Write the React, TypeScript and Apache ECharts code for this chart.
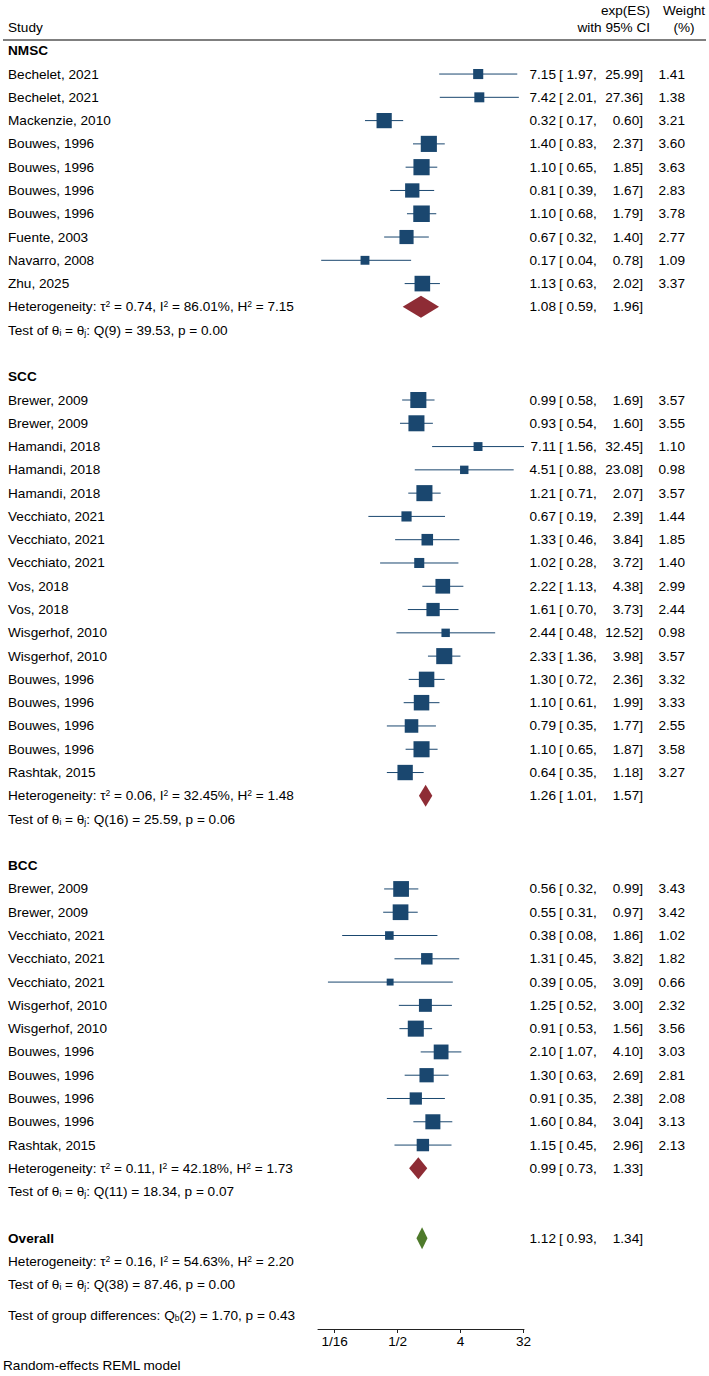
import React, { useEffect, useRef } from "react";
import * as echarts from "echarts";

const FONT = '"Liberation Sans", Arial, Helvetica, sans-serif';
const FS = 13.6;

// ---------- data ----------
const groupNames = ["NMSC", "SCC", "BCC"];

const nmscStudy = ["Bechelet, 2021", "Bechelet, 2021", "Mackenzie, 2010", "Bouwes, 1996", "Bouwes, 1996", "Bouwes, 1996", "Bouwes, 1996", "Fuente, 2003", "Navarro, 2008", "Zhu, 2025"];
const nmscES = [7.15, 7.42, 0.32, 1.4, 1.1, 0.81, 1.1, 0.67, 0.17, 1.13];
const nmscLo = [1.97, 2.01, 0.17, 0.83, 0.65, 0.39, 0.68, 0.32, 0.04, 0.63];
const nmscHi = [25.99, 27.36, 0.6, 2.37, 1.85, 1.67, 1.79, 1.4, 0.78, 2.02];
const nmscW = [1.41, 1.38, 3.21, 3.6, 3.63, 2.83, 3.78, 2.77, 1.09, 3.37];

const sccStudy = ["Brewer, 2009", "Brewer, 2009", "Hamandi, 2018", "Hamandi, 2018", "Hamandi, 2018", "Vecchiato, 2021", "Vecchiato, 2021", "Vecchiato, 2021", "Vos, 2018", "Vos, 2018", "Wisgerhof, 2010", "Wisgerhof, 2010", "Bouwes, 1996", "Bouwes, 1996", "Bouwes, 1996", "Bouwes, 1996", "Rashtak, 2015"];
const sccES = [0.99, 0.93, 7.11, 4.51, 1.21, 0.67, 1.33, 1.02, 2.22, 1.61, 2.44, 2.33, 1.3, 1.1, 0.79, 1.1, 0.64];
const sccLo = [0.58, 0.54, 1.56, 0.88, 0.71, 0.19, 0.46, 0.28, 1.13, 0.7, 0.48, 1.36, 0.72, 0.61, 0.35, 0.65, 0.35];
const sccHi = [1.69, 1.6, 32.45, 23.08, 2.07, 2.39, 3.84, 3.72, 4.38, 3.73, 12.52, 3.98, 2.36, 1.99, 1.77, 1.87, 1.18];
const sccW = [3.57, 3.55, 1.1, 0.98, 3.57, 1.44, 1.85, 1.4, 2.99, 2.44, 0.98, 3.57, 3.32, 3.33, 2.55, 3.58, 3.27];

const bccStudy = ["Brewer, 2009", "Brewer, 2009", "Vecchiato, 2021", "Vecchiato, 2021", "Vecchiato, 2021", "Wisgerhof, 2010", "Wisgerhof, 2010", "Bouwes, 1996", "Bouwes, 1996", "Bouwes, 1996", "Bouwes, 1996", "Rashtak, 2015"];
const bccES = [0.56, 0.55, 0.38, 1.31, 0.39, 1.25, 0.91, 2.1, 1.3, 0.91, 1.6, 1.15];
const bccLo = [0.32, 0.31, 0.08, 0.45, 0.05, 0.52, 0.53, 1.07, 0.63, 0.35, 0.84, 0.45];
const bccHi = [0.99, 0.97, 1.86, 3.82, 3.09, 3.0, 1.56, 4.1, 2.69, 2.38, 3.04, 2.96];
const bccW = [3.43, 3.42, 1.02, 1.82, 0.66, 2.32, 3.56, 3.03, 2.81, 2.08, 3.13, 2.13];

const groupES = [1.08, 1.26, 0.99];
const groupLo = [0.59, 1.01, 0.73];
const groupHi = [1.96, 1.57, 1.33];
const groupTau2 = [0.74, 0.06, 0.11];
const groupI2 = [86.01, 32.45, 42.18];
const groupH2 = [7.15, 1.48, 1.73];
const groupQdf = [9, 16, 11];
const groupQ = [39.53, 25.59, 18.34];
const groupP = [0.0, 0.06, 0.07];

const overallES = 1.12;
const overallLo = 0.93;
const overallHi = 1.34;
const overallTau2 = 0.16;
const overallI2 = 54.63;
const overallH2 = 2.2;
const overallQdf = 38;
const overallQ = 87.46;
const overallP = 0.0;

const groupDiffDf = 2;
const groupDiffQ = 1.7;
const groupDiffP = 0.43;

const tickValues = [1 / 16, 1 / 2, 4, 32];
const tickLabels = ["1/16", "1/2", "4", "32"];

// ---------- layout (row indices) ----------
type Row = {
  row: number;
  label: string;
  bold?: boolean;
  rich?: boolean;
  es?: number;
  lo?: number;
  hi?: number;
  w?: number;
};

const groups = [
  { study: nmscStudy, es: nmscES, lo: nmscLo, hi: nmscHi, w: nmscW },
  { study: sccStudy, es: sccES, lo: sccLo, hi: sccHi, w: sccW },
  { study: bccStudy, es: bccES, lo: bccLo, hi: bccHi, w: bccW },
];

const hetText = (t: number, i2: number, h2: number) =>
  `Heterogeneity: τ{sup|2} = ${t.toFixed(2)}, I{sup|2} = ${i2.toFixed(2)}%, H{sup|2} = ${h2.toFixed(2)}`;
const testText = (df: number, q: number, p: number) =>
  `Test of θ{sub|i} = θ{sub|j}: Q(${df}) = ${q.toFixed(2)}, p = ${p.toFixed(2)}`;

const textRows: Row[] = [];
const studyRows: number[][] = [];
const diamondRows: number[][] = [];
let r = -1;
groups.forEach((g, gi) => {
  textRows.push({ row: r, label: groupNames[gi], bold: true });
  r++;
  g.study.forEach((s, i) => {
    textRows.push({ row: r, label: s, es: g.es[i], lo: g.lo[i], hi: g.hi[i], w: g.w[i] });
    studyRows.push([g.es[i], r, g.lo[i], g.hi[i], g.w[i]]);
    r++;
  });
  textRows.push({ row: r, label: hetText(groupTau2[gi], groupI2[gi], groupH2[gi]), rich: true, es: groupES[gi], lo: groupLo[gi], hi: groupHi[gi] });
  diamondRows.push([groupES[gi], r, groupLo[gi], groupHi[gi], 0]);
  r++;
  textRows.push({ row: r, label: testText(groupQdf[gi], groupQ[gi], groupP[gi]), rich: true });
  r += 2;
});
textRows.push({ row: r, label: "Overall", bold: true, es: overallES, lo: overallLo, hi: overallHi });
diamondRows.push([overallES, r, overallLo, overallHi, 1]);
r++;
textRows.push({ row: r, label: hetText(overallTau2, overallI2, overallH2), rich: true });
r++;
textRows.push({ row: r, label: testText(overallQdf, overallQ, overallP), rich: true });
r += 1.3;
textRows.push({
  row: r,
  label: `Test of group differences: Q{sub|b}(${groupDiffDf}) = ${groupDiffQ.toFixed(2)}, p = ${groupDiffP.toFixed(2)}`,
  rich: true,
});

const NAVY = "#1a476f";
const MAROON = "#8e2c35";
const GREEN = "#4e7a2b";

const richStyles = {
  sup: { fontSize: 8.5, fontFamily: FONT, verticalAlign: "top", fill: "#000", padding: [0, 0, 5, 0] },
  sub: { fontSize: 8.5, fontFamily: FONT, verticalAlign: "bottom", fill: "#000", padding: [5, 0, 0, 0] },
};

export default function App() {
  const ref = useRef<HTMLDivElement>(null);
  useEffect(() => {
    if (!ref.current) return;
    const chart = echarts.init(ref.current, undefined, { renderer: "svg" });
    const txt = (text: string, x: number, y: number, align: string, extra: any = {}) => ({
      type: "text",
      x,
      y,
      style: {
        text,
        fontSize: FS,
        fontFamily: FONT,
        fill: "#000",
        align,
        verticalAlign: "middle",
        ...extra,
      },
    });
    const hdr = (text: string, x: number, y: number, align: string) => ({
      type: "text",
      x,
      y,
      style: { text, fontSize: FS, fontFamily: FONT, fill: "#000", align, verticalAlign: "middle" },
    });
    const option: any = {
      animation: false,
      grid: { left: 318, right: 185, top: 0, bottom: 47 },
      xAxis: {
        type: "log",
        logBase: 2,
        min: 0.036,
        max: 32.45,
        axisLine: { show: true, onZero: false, lineStyle: { color: "#222", width: 1 } },
        axisTick: { show: true, length: 4, lineStyle: { color: "#222" }, customValues: tickValues },
        axisLabel: {
          customValues: tickValues,
          fontSize: FS,
          fontFamily: FONT,
          color: "#000",
          margin: 5,
          formatter: (v: number) => {
            const k = tickValues.findIndex((t) => Math.abs(t - v) / t < 1e-6);
            return k >= 0 ? tickLabels[k] : "";
          },
        },
        splitLine: { show: false },
      },
      yAxis: { type: "value", inverse: true, min: -3.18, max: 53.9, show: false },
      series: [
        {
          type: "custom",
          clip: false,
          silent: true,
          encode: { x: 0, y: 1 },
          data: studyRows,
          renderItem: (params: any, api: any) => {
            const es = api.value(0), row = api.value(1), lo = api.value(2), hi = api.value(3), w = api.value(4);
            const c = api.coord([es, row]);
            const a = api.coord([lo, row]);
            const b = api.coord([hi, row]);
            const s = 8.5 * Math.sqrt(w);
            return {
              type: "group",
              children: [
                { type: "line", shape: { x1: a[0], y1: a[1], x2: b[0], y2: b[1] }, style: { stroke: NAVY, lineWidth: 1 } },
                { type: "rect", shape: { x: c[0] - s / 2, y: c[1] - s / 2, width: s, height: s }, style: { fill: NAVY } },
              ],
            };
          },
        },
        {
          type: "custom",
          clip: false,
          silent: true,
          encode: { x: 0, y: 1 },
          data: diamondRows,
          renderItem: (params: any, api: any) => {
            const es = api.value(0), row = api.value(1), lo = api.value(2), hi = api.value(3), kind = api.value(4);
            const c = api.coord([es, row]);
            const a = api.coord([lo, row]);
            const b = api.coord([hi, row]);
            const h = 11;
            return {
              type: "polygon",
              shape: { points: [[a[0], c[1]], [c[0], c[1] - h], [b[0], c[1]], [c[0], c[1] + h]] },
              style: { fill: kind === 1 ? GREEN : MAROON },
            };
          },
        },
        {
          type: "custom",
          clip: false,
          silent: true,
          encode: { x: 0, y: 1 },
          data: textRows.map((t) => [1, t.row]),
          renderItem: (params: any, api: any) => {
            const t = textRows[params.dataIndex];
            const y = api.coord([1, api.value(1)])[1];
            const children: any[] = [];
            children.push(
              txt(t.label, 8, y, "left", {
                fontWeight: t.bold ? "bold" : "normal",
                ...(t.rich ? { rich: richStyles } : {}),
              })
            );
            if (t.es !== undefined) {
              children.push(txt(t.es.toFixed(2), 556, y, "right"));
              children.push(txt(`[ ${(t.lo as number).toFixed(2)},`, 559, y, "left"));
              children.push(txt(`${(t.hi as number).toFixed(2)}]`, 643, y, "right"));
            }
            if (t.w !== undefined) {
              children.push(txt(t.w.toFixed(2), 685, y, "right"));
            }
            return { type: "group", children };
          },
        },
      ],
      graphic: [
        hdr("Study", 8, 27, "left"),
        hdr("exp(ES)", 650, 10, "right"),
        hdr("with 95% CI", 650, 27, "right"),
        hdr("Weight", 684, 10, "center"),
        hdr("(%)", 684, 27, "center"),
        { type: "line", shape: { x1: 3, y1: 40, x2: 706, y2: 40 }, style: { stroke: "#555", lineWidth: 1.5 } },
        hdr("Random-effects REML model", 3, 1365, "left"),
      ],
    };
    chart.setOption(option);
    return () => chart.dispose();
  }, []);
  return <div ref={ref} style={{ position: "absolute", left: 0, top: 0, width: 709, height: 1376, background: "#fff" }} />;
}
